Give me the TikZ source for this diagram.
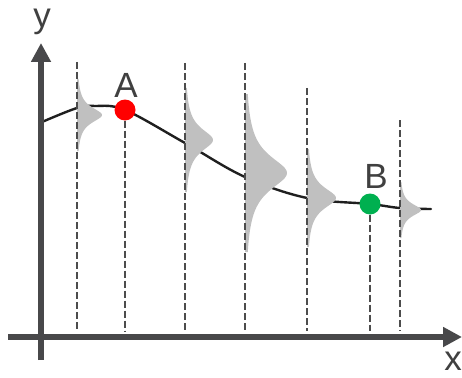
\documentclass[tikz,border=0pt]{standalone}
\usepackage{fontspec}
\setmainfont{Liberation Sans}
\usetikzlibrary{arrows.meta}

\definecolor{axisgray}{HTML}{48484A}
\definecolor{textgray}{HTML}{404040}
\definecolor{distgray}{HTML}{C0C0C0}
\definecolor{ptgreen}{HTML}{00B050}

\begin{document}
\begin{tikzpicture}[x=1pt, y=-1pt,
  font=\fontsize{35}{35}\selectfont,
  axis/.style={line width=6pt, axisgray},
  guide/.style={line width=2.7pt, black!70, dash pattern=on 7pt off 3pt},
  dot/.style={circle, inner sep=0pt, minimum size=21pt},
  lbl/.style={anchor=base, text=textgray}]
  \useasboundingbox (0,0) rectangle (462,377);
  % 平均の曲線
  \draw[line width=2.4pt, black!88, line cap=round] plot[smooth, tension=0.6] coordinates
    {(42,122) (77,108) (95,106) (125,110) (185,143) (245,177) (307,198) (370,204) (400,208) (431,209)};
  % 各点の分布
  \foreach \dx/\dy/\da/\ds/\dh in {77/115/25/9.5/36, 185/140/28/14/52, 245/173/42/21/79, 307/198/29/13/49, 400/210/21/7.5/28} {
    \fill[distgray] (\dx,\dy-\dh)
      -- plot[domain=-\dh:\dh, samples=80] ({\dx+\da/(1+(\x/\ds)^2)}, {\dy+\x})
      -- (\dx,\dy+\dh) -- cycle;
  }
  % 縦の補助線
  \foreach \gx/\gy in {77/62, 185/63, 245/63, 307/88, 400/120} {
    \draw[guide] (\gx,\gy) -- (\gx,331);
  }
  % 点AとB
  \node[dot, fill=red] (A) at (125,110) {};
  \node[dot, fill=ptgreen] (B) at (370,204) {};
  \coordinate (A0) at (125,331);
  \coordinate (B0) at (370,331);
  \draw[guide] (A.south) -- (A0);
  \draw[guide] (B.south) -- (B0);
  \node[lbl] (Alabel) at (126,97) {A};
  \node[lbl] (Blabel) at (376,188) {B};
  % 軸
  \coordinate (O1) at (41,360);
  \coordinate (Ytip) at (41,43);
  \coordinate (O2) at (8,337);
  \coordinate (Xtip) at (462,337);
  \draw[axis, -{Triangle[width=19pt, length=19pt]}] (O1) -- (Ytip);
  \draw[axis, -{Triangle[width=19pt, length=19pt]}] (O2) -- (Xtip);
  \node[lbl] (ylabel) at (42,28) {y};
  \node[lbl] (xlabel) at (453,370) {x};
\end{tikzpicture}
\end{document}
